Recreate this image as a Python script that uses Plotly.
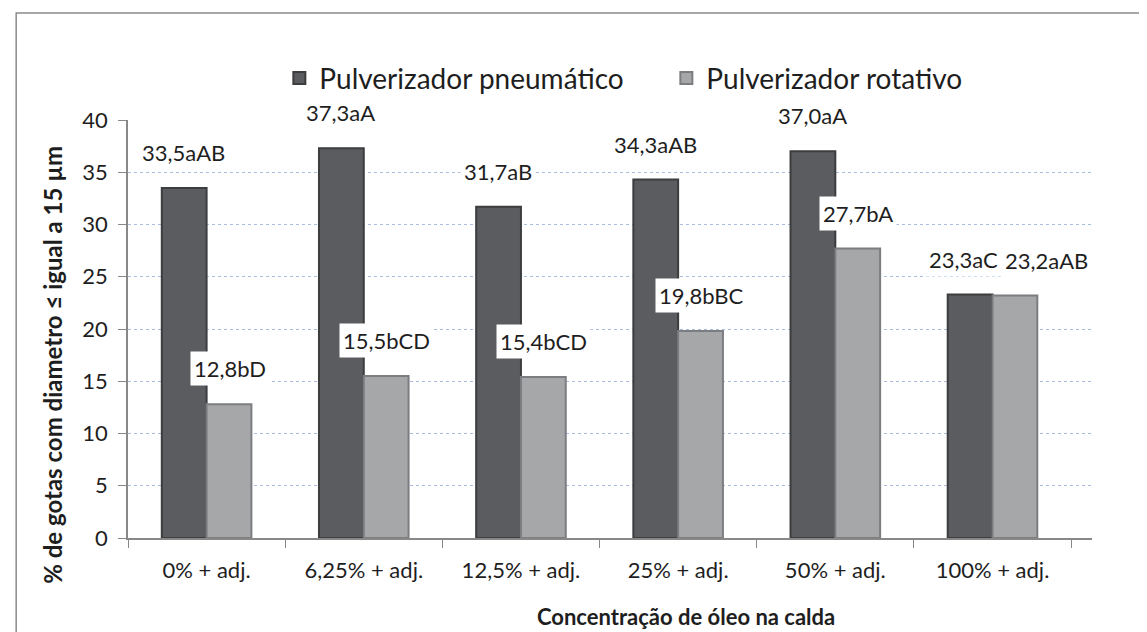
import plotly.graph_objects as go

categories = ["0% + adj.", "6,25% + adj.", "12,5% + adj.", "25% + adj.", "50% + adj.", "100% + adj."]
pneumatico = [33.5, 37.3, 31.7, 34.3, 37.0, 23.3]
rotativo = [12.8, 15.5, 15.4, 19.8, 27.7, 23.2]
labels_pneumatico = ["33,5aAB", "37,3aA", "31,7aB", "34,3aAB", "37,0aA", "23,3aC"]
labels_rotativo = ["12,8bD", "15,5bCD", "15,4bCD", "19,8bBC", "27,7bA", "23,2aAB"]
y_ticks = [0, 5, 10, 15, 20, 25, 30, 35, 40]

FONT = "Lato"
TXT = "#1e1e1e"

fig = go.Figure()
fig.add_trace(go.Bar(x=categories, y=pneumatico, name="Pulverizador pneumático",
                     marker=dict(color="#5b5c5f", line=dict(color="#3c3d3f", width=2))))
fig.add_trace(go.Bar(x=categories, y=rotativo, name="Pulverizador rotativo",
                     marker=dict(color="#a6a7a9", line=dict(color="#7c7d80", width=2))))

# value labels above the bars (white box breaks the gridlines like the original)
# last group: labels pushed apart so they sit side by side
nudge = {(0, 5): -6, (1, 5): 31}
for s, (vals, labs, shift) in enumerate([(pneumatico, labels_pneumatico, -23),
                                         (rotativo, labels_rotativo, 23)]):
    for i, (c, v, t) in enumerate(zip(categories, vals, labs)):
        fig.add_annotation(x=c, y=v, text=t, showarrow=False,
                           xshift=shift + nudge.get((s, i), 0), yshift=18,
                           yanchor="bottom", bgcolor="white", borderpad=3,
                           font=dict(family=FONT, size=22, color=TXT))

# axis titles (placed like in the original, not centred on the plot area)
fig.add_annotation(text="<b>% de gotas com diametro ≤ igual a 15 µm</b>", textangle=-90,
                   xref="paper", yref="paper", x=-0.078, y=0.414, showarrow=False,
                   xanchor="center", yanchor="middle",
                   font=dict(family=FONT, size=24, color=TXT))
fig.add_annotation(text="<b>Concentração de óleo na calda</b>",
                   xref="paper", yref="paper", x=0.579, y=-0.187, showarrow=False,
                   xanchor="center", yanchor="middle",
                   font=dict(family=FONT, size=22, color=TXT))

fig.update_layout(
    width=1147, height=632,
    margin=dict(l=120, r=63, t=112, b=102),
    paper_bgcolor="white", plot_bgcolor="white",
    font=dict(family=FONT, color=TXT),
    barmode="group", bargap=0.43, bargroupgap=0,
    showlegend=True,
    legend=dict(orientation="h", x=0.157, xanchor="left", y=1.10, yanchor="middle",
                font=dict(size=28, color=TXT), bgcolor="rgba(0,0,0,0)",
                entrywidth=342, entrywidthmode="pixels", itemclick=False),
)

fig.update_yaxes(range=[0, 40], tickvals=y_ticks, showgrid=True,
                 gridcolor="#a9bde2", griddash="dot", gridwidth=1,
                 showline=True, linecolor="#888888", linewidth=1.5,
                 ticks="outside", ticklen=8, tickcolor="#888888",
                 tickfont=dict(size=22, color=TXT), ticklabelstandoff=6,
                 zeroline=False)
fig.update_xaxes(showline=True, linecolor="#888888", linewidth=1.5,
                 ticks="outside", ticklen=8, tickcolor="#888888", tickson="boundaries",
                 tickfont=dict(size=22, color=TXT), ticklabelstandoff=12)

# white strip where the legend box hides the top gridline in the original
fig.add_shape(type="rect", xref="paper", yref="y", x0=0.13, x1=0.92, y0=39.6, y1=40.4,
              fillcolor="white", line_width=0, layer="between")

# outer chart frame
fig.add_shape(type="rect", xref="paper", yref="paper", x0=-0.116, x1=1.056, y0=-0.24, y1=1.256,
              line=dict(color="#8a8a8a", width=1.5), fillcolor="rgba(0,0,0,0)", layer="below")

fig.write_html("out.html")
